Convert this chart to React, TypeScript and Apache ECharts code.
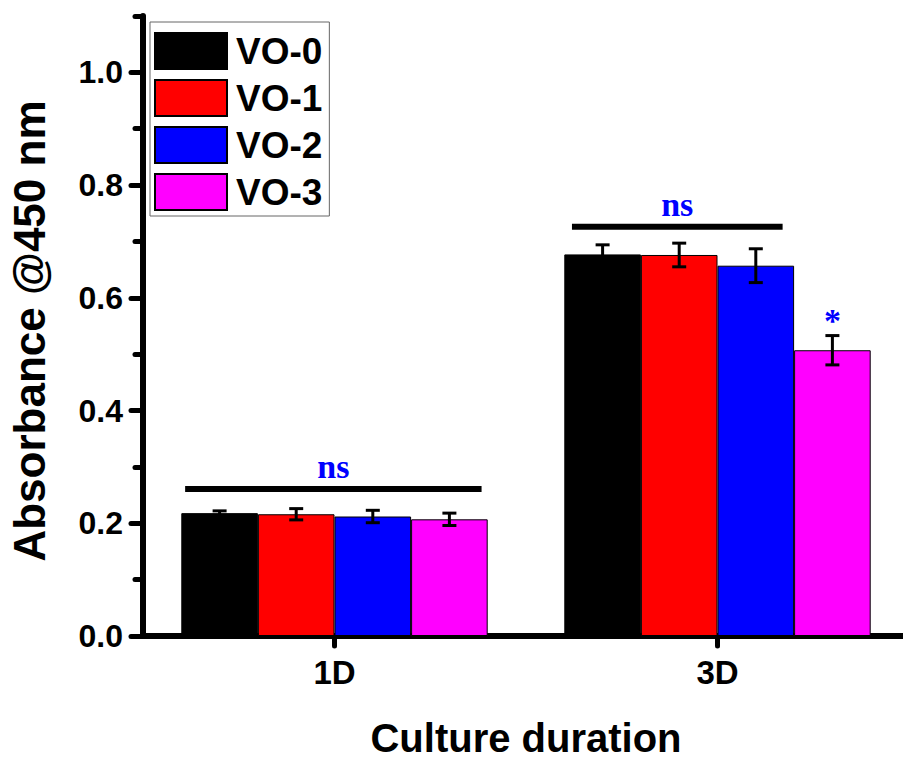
import React, { useEffect, useRef } from "react";
import * as echarts from "echarts";

const categories = ["1D", "3D"];
const seriesNames = ["VO-0", "VO-1", "VO-2", "VO-3"];
const seriesColors = ["#000000", "#ff0000", "#0000ff", "#ff00ff"];
// mean values per series, [1D, 3D]
const vo0 = [0.218, 0.677];
const vo1 = [0.216, 0.676];
const vo2 = [0.212, 0.657];
const vo3 = [0.207, 0.507];
// error (± SD) per series, [1D, 3D]
const vo0Err = [0.004, 0.017];
const vo1Err = [0.01, 0.021];
const vo2Err = [0.011, 0.03];
const vo3Err = [0.011, 0.026];
// significance annotations per category
const sigLabels = ["ns", "ns"];
const sigLevels = [0.261, 0.726];
const sigStartSlot = [0.05, 0.1];
const sigEndSlot = [3.92, 2.85];
const starCategory = 1;
const starSeries = 3;
const starLevel = 0.559;
const yTicks = [0, 0.2, 0.4, 0.6, 0.8, 1.0];

const means = [vo0, vo1, vo2, vo3];
const errs = [vo0Err, vo1Err, vo2Err, vo3Err];

const FONT = "'Liberation Sans', Arial, sans-serif";
const SERIF = "'Liberation Serif', 'Times New Roman', serif";

export default function App() {
  const ref = useRef<HTMLDivElement>(null);
  useEffect(() => {
    if (!ref.current) return;
    const chart = echarts.init(ref.current, null, { renderer: "svg" });

    const errData: number[][] = [];
    means.forEach((arr, s) =>
      arr.forEach((m, c) => errData.push([c, s, m, errs[s][c]]))
    );
    const sigData = sigLevels.map((lv, c) => [c, lv, sigStartSlot[c], sigEndSlot[c]]);

    const nBars = seriesNames.length;
    const gapRatio = 0.2;

    const option: any = {
      animation: false,
      backgroundColor: "#ffffff",
      grid: {
        left: 143,
        top: 16,
        width: 766,
        height: 620,
        containLabel: false,
        outerBoundsMode: "none",
      },
      legend: {
        orient: "vertical",
        left: 150,
        top: 22,
        padding: [10, 7, 5, 4],
        itemGap: 9,
        itemWidth: 72,
        itemHeight: 36,
        borderColor: "#666666",
        borderWidth: 1,
        icon: "rect",
        data: seriesNames,
        textStyle: {
          fontFamily: FONT,
          fontWeight: "bold",
          fontSize: 37,
          lineHeight: 36,
          color: "#000",
          padding: [0, 0, 0, 4],
        },
      },
      xAxis: [
        {
          type: "category",
          data: categories,
          position: "bottom",
          axisLine: { lineStyle: { color: "#000", width: 6 } },
          axisTick: {
            show: true,
            alignWithLabel: true,
            length: 10,
            lineStyle: { width: 5, color: "#000", cap: "round" },
          },
          axisLabel: { fontFamily: FONT, fontWeight: "bold", fontSize: 33, color: "#000", margin: 20 },
          name: "Culture duration",
          nameLocation: "middle",
          nameGap: 85,
          nameTextStyle: {
            fontFamily: FONT,
            fontWeight: "bold",
            fontSize: 40,
            lineHeight: 34,
            color: "#000",
          },
        },
        {
          type: "category",
          data: categories,
          position: "top",
          axisLine: { lineStyle: { color: "#000", width: 6, cap: "round" } },
          axisTick: { show: false },
          axisLabel: { show: false },
        },
      ],
      yAxis: [
        {
          type: "value",
          min: 0,
          max: 1.1,
          interval: 0.2,
          position: "left",
          axisLine: { show: true, lineStyle: { color: "#000", width: 6, cap: "round" } },
          axisTick: { show: true, length: 12, lineStyle: { width: 5, color: "#000", cap: "round" } },
          splitLine: { show: false },
          axisLabel: {
            fontFamily: FONT,
            fontWeight: "bold",
            fontSize: 32,
            color: "#000",
            margin: 20,
            showMaxLabel: false,
            formatter: (v: number) =>
              yTicks.some((t) => Math.abs(t - v) < 1e-6) ? v.toFixed(1) : "",
          },
          name: "Absorbance @450 nm",
          nameLocation: "middle",
          nameGap: 92,
          nameTextStyle: {
            fontFamily: FONT,
            fontWeight: "bold",
            fontSize: 44,
            color: "#000",
            padding: [0, 10, 0, 0],
          },
        },
        {
          type: "value",
          min: 0,
          max: 1.1,
          interval: 0.1,
          position: "left",
          axisLine: { show: false },
          axisTick: { show: true, length: 8, lineStyle: { width: 5, color: "#000", cap: "round" } },
          splitLine: { show: false },
          axisLabel: { show: false },
        },
      ],
      series: [
        ...seriesNames.map((name, s) => ({
          name,
          type: "bar",
          data: means[s],
          barGap: "0%",
          barCategoryGap: "20%",
          itemStyle: { color: seriesColors[s], borderColor: "#000", borderWidth: 1 },
          z: 2,
        })),
        {
          type: "custom",
          name: "err",
          data: errData,
          encode: { x: 0, y: 2 },
          z: 5,
          silent: true,
          renderItem: (params: any, api: any) => {
            const c = api.value(0);
            const s = api.value(1);
            const m = api.value(2);
            const e = api.value(3);
            const band = api.size([1, 0])[0];
            const barW = (band * (1 - gapRatio)) / nBars;
            const base = api.coord([c, m]);
            const x = base[0] + (s - (nBars - 1) / 2) * barW;
            const yT = api.coord([c, m + e])[1];
            const yB = api.coord([c, m - e])[1];
            const cap = 7;
            const st = { stroke: "#000", lineWidth: 3 };
            return {
              type: "group",
              children: [
                { type: "line", shape: { x1: x, y1: yT, x2: x, y2: yB }, style: st },
                { type: "line", shape: { x1: x - cap, y1: yT, x2: x + cap, y2: yT }, style: st },
                { type: "line", shape: { x1: x - cap, y1: yB, x2: x + cap, y2: yB }, style: st },
              ],
            };
          },
        },
        {
          type: "custom",
          name: "sig",
          data: sigData,
          encode: { x: 0, y: 1 },
          z: 6,
          silent: true,
          renderItem: (params: any, api: any) => {
            const c = api.value(0);
            const lv = api.value(1);
            const a = api.value(2);
            const b = api.value(3);
            const band = api.size([1, 0])[0];
            const barW = (band * (1 - gapRatio)) / nBars;
            const p = api.coord([c, lv]);
            const left = p[0] - (nBars / 2) * barW;
            const x1 = left + a * barW;
            const x2 = left + b * barW;
            const children: any[] = [
              {
                type: "rect",
                shape: { x: x1, y: p[1] - 3, width: x2 - x1, height: 6 },
                style: { fill: "#000" },
              },
              {
                type: "text",
                style: {
                  text: sigLabels[params.dataIndex],
                  x: (x1 + x2) / 2,
                  y: p[1] - 22,
                  align: "center",
                  verticalAlign: "middle",
                  fill: "#0000ff",
                  font: `bold 34px ${SERIF}`,
                },
              },
            ];
            if (params.dataIndex === starCategory) {
              const sp = api.coord([starCategory, starLevel]);
              const sx = sp[0] + (starSeries - (nBars - 1) / 2) * barW;
              children.push({
                type: "text",
                style: {
                  text: "*",
                  x: sx,
                  y: sp[1],
                  align: "center",
                  verticalAlign: "middle",
                  fill: "#0000ff",
                  font: `bold 34px ${SERIF}`,
                },
              });
            }
            return { type: "group", children };
          },
        },
      ],
    };
    chart.setOption(option);
    return () => chart.dispose();
  }, []);
  return (
    <div
      ref={ref}
      style={{ position: "fixed", left: 0, top: 0, width: 903, height: 760, background: "#fff" }}
    />
  );
}
